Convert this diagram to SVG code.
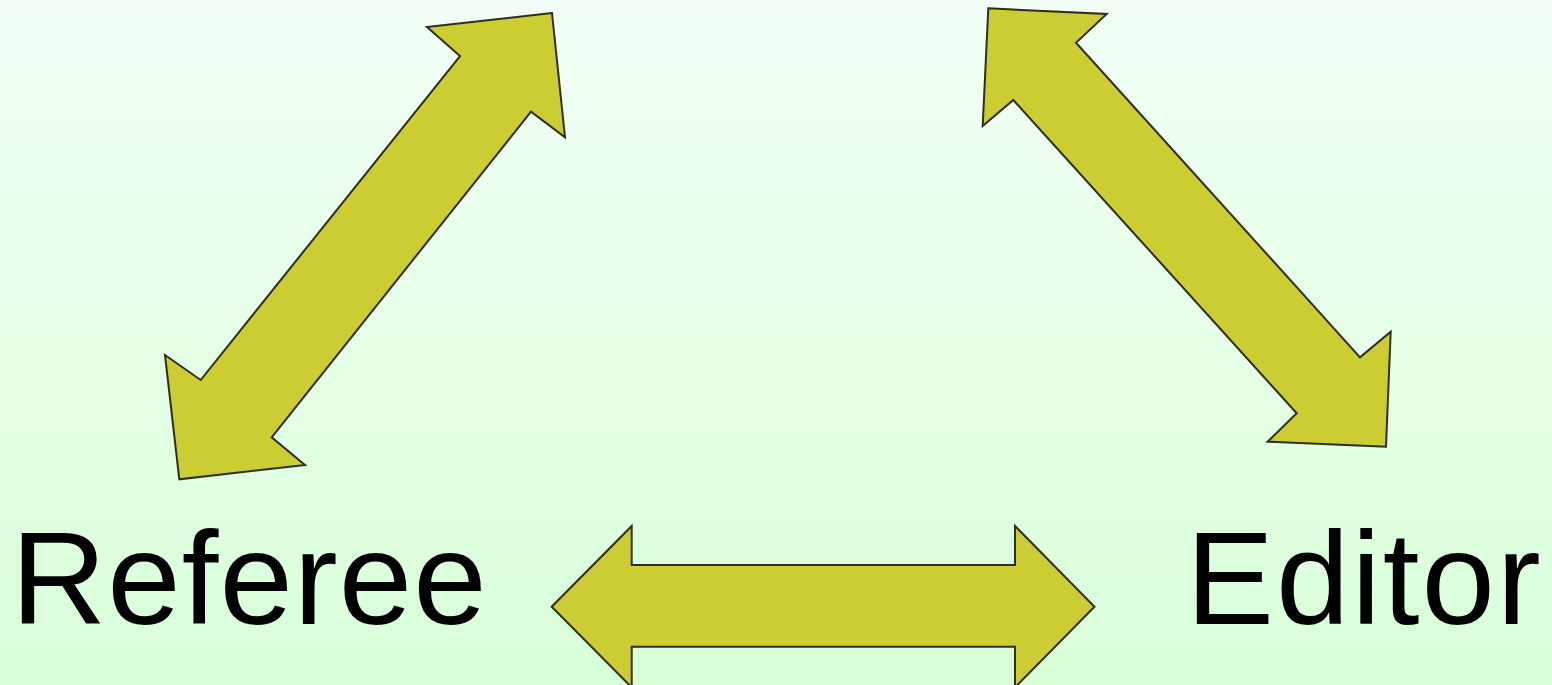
<svg xmlns="http://www.w3.org/2000/svg" width="1552" height="685" viewBox="0 0 1552 685">
<defs>
<linearGradient id="bg" x1="0" y1="0" x2="0" y2="1">
<stop offset="0" stop-color="#F3FFF6"/>
<stop offset="1" stop-color="#D8FFD8"/>
</linearGradient>
<style>
.arrow{fill:#CCCC33;stroke:#2E2E1E;stroke-width:2;stroke-linejoin:miter}
.label{font-family:"Liberation Sans",Arial,sans-serif;font-size:132px;fill:#000}
</style>
</defs>
<rect x="0" y="0" width="1552" height="685" fill="url(#bg)"/>
<g id="connectors">
<polygon id="arrow-referee-top" class="arrow" points="552,13 427,27 460,56 200.7,380 165,355 179.3,479.3 305,465 271.7,437.3 531,111.7 565,137.3"/>
<polygon id="arrow-top-editor" class="arrow" points="988.3,8.3 1106.7,14 1076,42.7 1360,357.3 1390.7,331.7 1386,446.7 1267.7,441.7 1296.7,413.3 1013.3,100 982.7,126"/>
<polygon id="arrow-referee-editor" class="arrow" points="551.7,606.7 631.7,526 631.7,565 1015,565 1015,526 1094.5,606.7 1015,687.4 1015,646.7 631.7,646.7 631.7,687.4"/>
</g>
<g id="node-referee">
<text class="label" x="11" y="624" letter-spacing="1">Referee</text>
</g>
<g id="node-editor">
<text class="label" x="1186" y="624" letter-spacing="2">Editor</text>
</g>
</svg>
